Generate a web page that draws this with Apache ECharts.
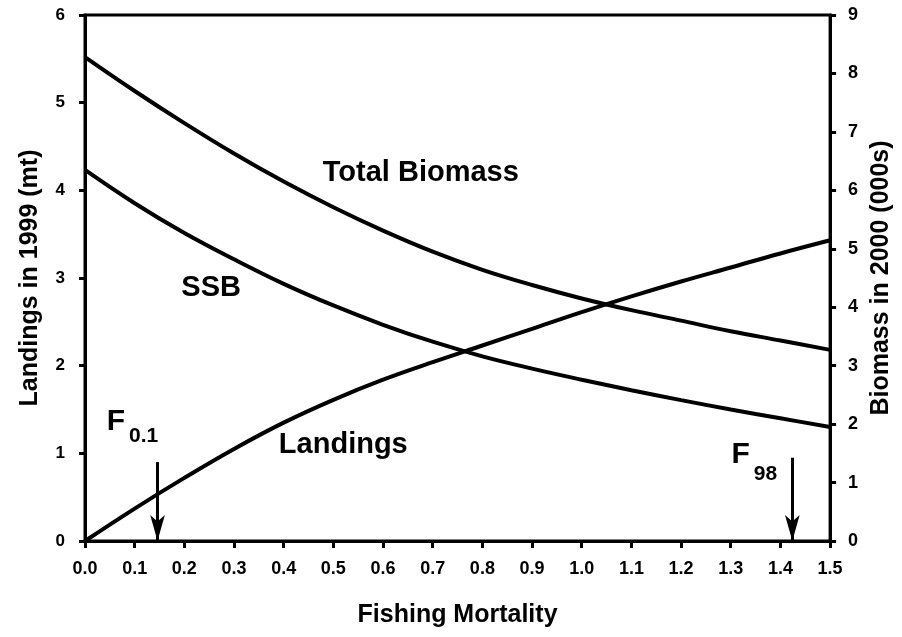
<!DOCTYPE html>
<html>
<head>
<meta charset="utf-8">
<script src="https://cdn.jsdelivr.net/npm/echarts/dist/echarts.min.js"></script>
<style>
	html, body { margin: 0; padding: 0; background: #fff; }
	#chart { width: 902px; height: 637px; }
</style>
</head>
<body>
	<div id="chart"></div>
	<script>
		// fishing mortality (x) and the three curves
		var fishingF = [0.0, 0.1, 0.2, 0.3, 0.4, 0.5, 0.6, 0.7, 0.8, 0.9, 1.0, 1.1, 1.2, 1.3, 1.4, 1.5];
		var landings = [0, 0.37, 0.72, 1.05, 1.35, 1.61, 1.84, 2.04, 2.23, 2.42, 2.61, 2.79, 2.96, 3.12, 3.28, 3.43];
		var totalBiomass = [8.28, 7.70, 7.15, 6.63, 6.15, 5.71, 5.31, 4.95, 4.64, 4.38, 4.15, 3.95, 3.77, 3.59, 3.43, 3.27];
		var ssb = [6.35, 5.78, 5.27, 4.82, 4.40, 4.03, 3.70, 3.41, 3.16, 2.95, 2.76, 2.58, 2.41, 2.25, 2.10, 1.95];
		var f01 = 0.146, f98 = 1.424;

		function pairs(ys) {
			return fishingF.map(function (x, i) { return [x, ys[i]]; });
		}

		var font = '"Liberation Sans", Arial, sans-serif';
		var lbl = { fontFamily: font, fontWeight: 'bold', color: '#000' };
		// text placed at a data coordinate
		function txt(text, coord, size) {
			return {
				coord: coord, symbol: 'circle', symbolSize: 1,
				itemStyle: { color: 'rgba(0,0,0,0)' },
				label: { show: true, position: 'inside', formatter: text, fontFamily: font, fontWeight: 'bold', fontSize: size, color: '#000' }
			};
		}

		var myChart = echarts.init(document.getElementById('chart'));

		option = {
			backgroundColor: '#fff',
			animation: false,
			grid: { left: 85, right: 67, top: 15, bottom: 96, show: true, borderColor: '#000', borderWidth: 3 },
			xAxis: {
				type: 'value', min: 0, max: 1.5, interval: 0.1,
				name: 'Fishing Mortality', nameLocation: 'middle', nameGap: 62,
				nameTextStyle: Object.assign({ fontSize: 25 }, lbl),
				axisLine: { lineStyle: { color: '#000', width: 3 } },
				axisTick: { length: 7, lineStyle: { color: '#000', width: 3 } },
				axisLabel: Object.assign({ fontSize: 18, margin: 19, formatter: function (v) { return v.toFixed(1); } }, lbl),
				splitLine: { show: false }
			},
			yAxis: [
				{
					type: 'value', min: 0, max: 6, interval: 1, position: 'left',
					name: 'Landings in 1999 (mt)', nameLocation: 'middle', nameGap: 42,
					nameTextStyle: Object.assign({ fontSize: 25 }, lbl),
					axisLine: { show: true, lineStyle: { color: '#000', width: 3 } },
					axisTick: { show: true, length: 6, lineStyle: { color: '#000', width: 3 } },
					axisLabel: Object.assign({ fontSize: 17, margin: 20 }, lbl),
					splitLine: { show: false }
				},
				{
					type: 'value', min: 0, max: 9, interval: 1, position: 'right',
					name: 'Biomass in 2000 (000s)', nameLocation: 'middle', nameGap: 36,
					nameTextStyle: Object.assign({ fontSize: 25 }, lbl),
					axisLine: { show: true, lineStyle: { color: '#000', width: 3 } },
					axisTick: { show: true, length: 6, lineStyle: { color: '#000', width: 3 } },
					axisLabel: Object.assign({ fontSize: 18, margin: 18 }, lbl),
					splitLine: { show: false }
				}
			],
			series: [
				{
					name: 'Landings', type: 'line', yAxisIndex: 0, smooth: 0.4, showSymbol: false,
					data: pairs(landings),
					lineStyle: { color: '#000', width: 4 },
					markPoint: {
						silent: true,
						data: [
							txt('Landings', [0.52, 1.095], 29),
							txt('F', [0.062, 1.357], 30),
							txt('0.1', [0.118, 1.198], 21),
							txt('F', [1.32, 0.98], 30),
							txt('98', [1.37, 0.764], 21)
						]
					},
					markLine: {
						silent: true, symbol: ['none', 'arrow'], symbolSize: [11, 26],
						lineStyle: { color: '#000', width: 3, type: 'solid' },
						label: { show: false },
						data: [
							[{ coord: [f01, 0.90] }, { coord: [f01, 0] }],
							[{ coord: [f98, 0.95] }, { coord: [f98, 0] }]
						]
					}
				},
				{
					name: 'Total Biomass', type: 'line', yAxisIndex: 1, smooth: 0.4, showSymbol: false,
					data: pairs(totalBiomass),
					lineStyle: { color: '#000', width: 4 },
					markPoint: { silent: true, data: [txt('Total Biomass', [0.676, 6.30], 29)] }
				},
				{
					name: 'SSB', type: 'line', yAxisIndex: 1, smooth: 0.4, showSymbol: false,
					data: pairs(ssb),
					lineStyle: { color: '#000', width: 4 },
					markPoint: { silent: true, data: [txt('SSB', [0.254, 4.33], 29)] }
				}
			]
		};

		myChart.setOption(option);
	</script>
</body>
</html>
